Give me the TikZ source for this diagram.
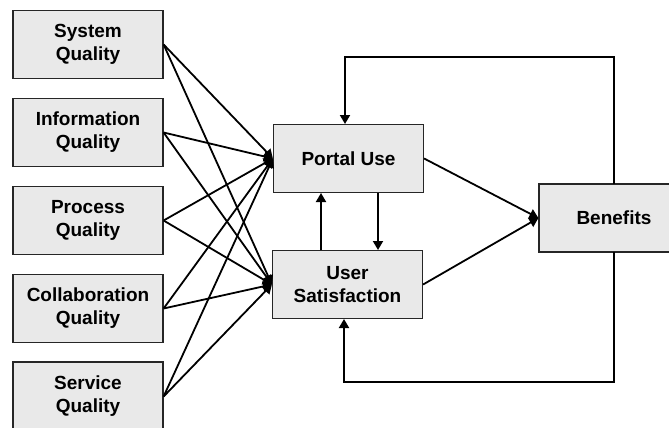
\documentclass[tikz,border=0pt]{standalone}
\usepackage{fontspec}
\setmainfont{Liberation Sans}
\usetikzlibrary{arrows.meta}
\definecolor{boxfill}{RGB}{233,233,233}
\begin{document}
\begin{tikzpicture}[x=1pt,y=-1pt,
  box/.style={draw=black!85, line width=1.2pt, fill=boxfill, minimum width=150pt, minimum height=68pt,
    inner sep=0pt, align=center, font=\fontsize{19}{23}\selectfont\bfseries},
  conn/.style={line width=1.8pt, -{Triangle[length=9pt,width=10pt]}}]
\useasboundingbox (0,0) rectangle (669,428);
\clip (0,0) rectangle (669,428);
\node[box] (sq) at (88,44.5) {System\\Quality};
\node[box] (iq) at (88,132.5) {Information\\Quality};
\node[box] (pq) at (88,220.5) {Process\\Quality};
\node[box] (cq) at (88,308.5) {Collaboration\\Quality};
\node[box, minimum height=69pt] (svq) at (88,396.5) {Service\\Quality};
\node[box] (pu) at (348.5,158.5) {Portal Use};
\node[box] (us) at (347.5,284.5) {User\\Satisfaction};
\node[box, minimum width=180pt] (bn) at (629,218) {};
\node[font=\fontsize{19}{23}\selectfont\bfseries] (bnt) at (614,218) {Benefits};
\foreach \s in {sq,iq,pq,cq,svq}{
  \draw[conn] (\s.east) -- (pu.west);
  \draw[conn] (\s.east) -- (us.west);
}
\coordinate (pub1) at (321,193);
\coordinate (ust1) at (321,250);
\coordinate (pub2) at (378,193);
\coordinate (ust2) at (378,250);
\draw[conn] (ust1) -- (pub1);
\draw[conn] (pub2) -- (ust2);
\draw[conn] (pu.east) -- (bn.west);
\draw[conn] (us.east) -- (bn.west);
\coordinate (put) at (345,124);
\coordinate (usb) at (344,319);
\coordinate (bnn) at (614,184);
\coordinate (bns) at (614,252);
\draw[conn] (bnn) -- (614,57) -- (345,57) -- (put);
\draw[conn] (bns) -- (614,382) -- (344,382) -- (usb);
\end{tikzpicture}
\end{document}
